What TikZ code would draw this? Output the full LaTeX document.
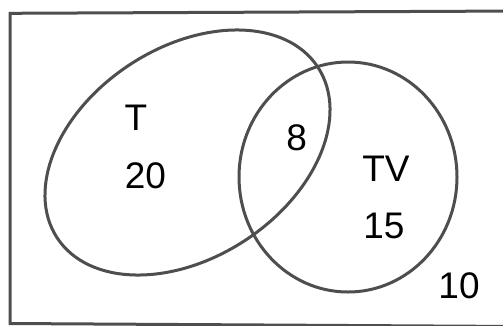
\documentclass[tikz,border=0pt]{standalone}
\usepackage{fontspec}
\setmainfont{Liberation Sans}
\definecolor{linegray}{RGB}{78,78,78}
\begin{document}
\begin{tikzpicture}[x=1pt,y=-1pt,
  outline/.style={draw=linegray,line width=3pt},
  lbl/.style={anchor=base,inner sep=0pt,font=\fontsize{37}{40}\selectfont,text=black}]
\useasboundingbox (0,0) rectangle (503,325);
% frame (cropped on the right and bottom)
\draw[outline,line cap=rect] (520,11) -- (10,13.3) -- (10,323.5) -- (520,326.5);
% sets
\draw[outline,shift={(187.5,152.5)},rotate=33.2] (0,0) ellipse [x radius=155.8,y radius=105.1];
\draw[outline] (348,177) ellipse [x radius=109,y radius=115];
% labels
\node[lbl] (t) at (136,130) {T};
\node[lbl] (n20) at (145.5,188.3) {20};
\node[lbl] (n8) at (296.7,150.7) {8};
\node[lbl] (tv) at (386,181) {TV};
\node[lbl] (n15) at (384,238.3) {15};
\node[lbl] (n10) at (459,298.3) {10};
\end{tikzpicture}
\end{document}
